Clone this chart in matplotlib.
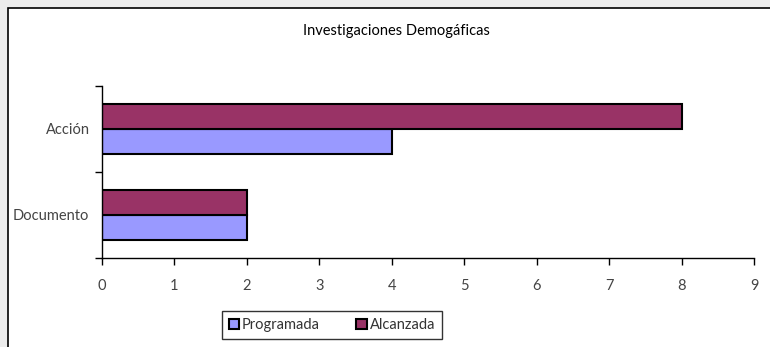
"""
barras horizontales: investigaciones demograficas
"""
import numpy as np
import matplotlib.pyplot as plt
from matplotlib.patches import Rectangle

categorias = ['Documento', 'Acción']
programada = [2, 4]
alcanzada = [2, 8]
series = ['Programada', 'Alcanzada']
colores = ['#9999ff', '#993366']

plt.rcParams['font.family'] = ['Lato', 'DejaVu Sans']

fig = plt.figure(figsize=(7.7, 3.47), dpi=100)
fig.patch.set_facecolor('#ececec')

# marco blanco del grafico
fig.patches.append(Rectangle((8 / 770, -0.01), 1.0, 1.01 - 8 / 347,
                             transform=fig.transFigure, facecolor='white',
                             edgecolor='black', linewidth=1.2, zorder=-10))

ax = fig.add_axes([102 / 770, 89 / 347, 652 / 770, 172 / 347])
ax.set_facecolor('none')

y = np.arange(len(categorias))
h = 0.29
ax.barh(y - h / 2, programada, height=h, color=colores[0],
        edgecolor='black', linewidth=1.5, label=series[0])
ax.barh(y + h / 2, alcanzada, height=h, color=colores[1],
        edgecolor='black', linewidth=1.5, label=series[1])

ax.set_xlim(0, 9)
ax.set_ylim(-0.5, 1.5)
ax.set_xticks(range(10))
ax.set_yticks(y)
ax.set_yticklabels(categorias)
ax.set_yticks([-0.5, 0.5, 1.5], minor=True)
ax.tick_params(axis='y', which='major', length=0, pad=9)
ax.tick_params(axis='y', which='minor', length=5, width=1)
ax.tick_params(axis='x', length=5, width=1, pad=10)
ax.tick_params(labelsize=10.5, labelcolor='#444444')

for side in ['top', 'right']:
    ax.spines[side].set_visible(False)
for side in ['left', 'bottom']:
    ax.spines[side].set_linewidth(1)

fig.text(396 / 770, 1 - 31 / 347, 'Investigaciones Demogáficas',
         ha='center', va='center', fontsize=10.5)

leg = fig.legend(loc='center', bbox_to_anchor=(332 / 770, 1 - 325 / 347),
                 ncol=2, frameon=True, fancybox=False,
                 edgecolor='black', handlelength=0.7, handleheight=0.7,
                 handletextpad=0.2, columnspacing=2.5, borderpad=0.5,
                 prop={'size': 10.5})
for txt in leg.get_texts():
    txt.set_color('#333333')
leg.get_frame().set_linewidth(1)

fig.savefig('out.png', dpi=100, facecolor=fig.get_facecolor())
